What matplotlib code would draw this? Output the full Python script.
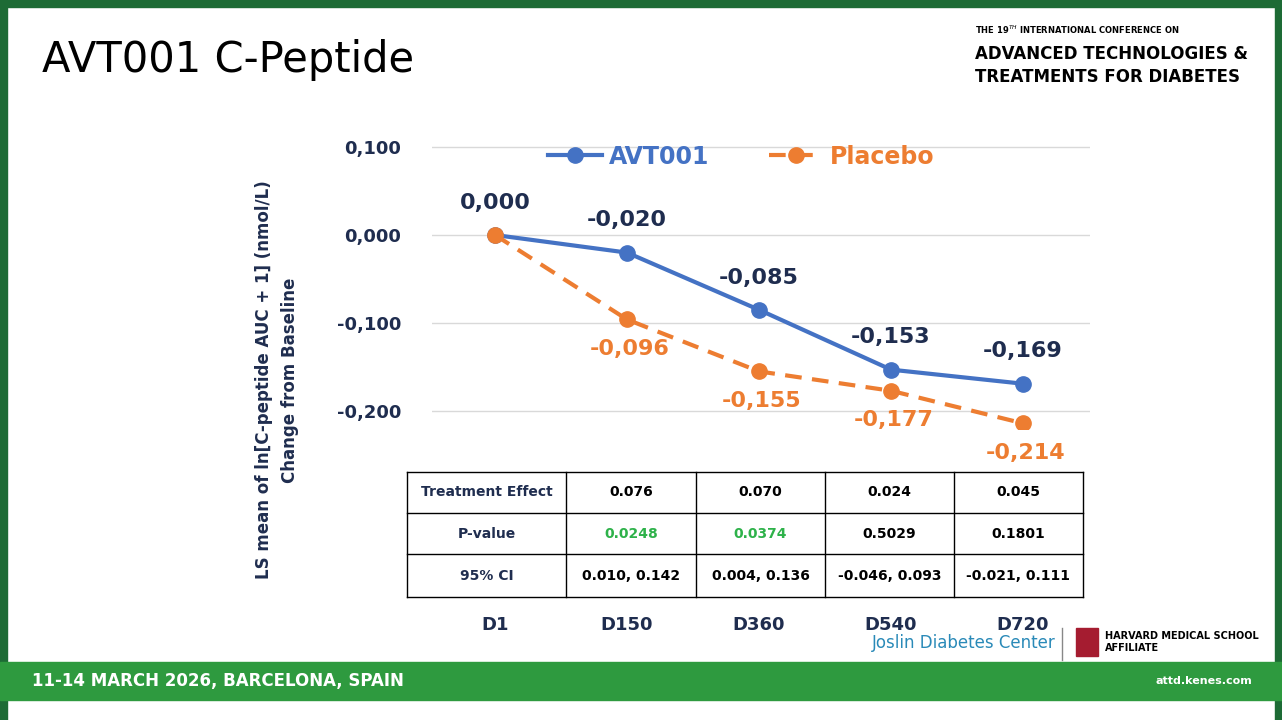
import matplotlib
matplotlib.use("Agg")
import matplotlib.pyplot as plt

days = ["D1", "D150", "D360", "D540", "D720"]
avt001 = [0.000, -0.020, -0.085, -0.153, -0.169]
placebo = [None, -0.096, -0.155, -0.177, -0.214]
placebo_vals = [0.000, -0.096, -0.155, -0.177, -0.214]
row_labels = ["Treatment Effect", "P-value", "95% CI"]
effect = ["0.076", "0.070", "0.024", "0.045"]
pvals = ["0.0248", "0.0374", "0.5029", "0.1801"]
ci = ["0.010, 0.142", "0.004, 0.136", "-0.046, 0.093", "-0.021, 0.111"]
yticks = [0.1, 0.0, -0.1, -0.2]

NAVY = "#1f2d4f"; BLUE = "#4472c4"; ORANGE = "#ed7d31"
W, H = 1282, 720
fig = plt.figure(figsize=(W/100, H/100), dpi=100)
fig.patch.set_facecolor("white")

bg = fig.add_axes([0, 0, 1, 1]); bg.set_xlim(0, W); bg.set_ylim(H, 0); bg.axis("off")
bg.add_patch(plt.Rectangle((0, 0), W, 7, color="#1d6b35"))
bg.add_patch(plt.Rectangle((0, 0), 7, H, color="#1d6b35"))
bg.add_patch(plt.Rectangle((W-7, 0), 7, H, color="#1d6b35"))
bg.add_patch(plt.Rectangle((0, 662), W, 38, color="#2e9a3f"))
bg.text(42, 60, "AVT001 C-Peptide", fontsize=30, va="center", color="black")
bg.text(975, 30, "THE 19$^{TH}$ INTERNATIONAL CONFERENCE ON", fontsize=6, fontweight="bold", va="center")
bg.text(975, 54, "ADVANCED TECHNOLOGIES &", fontsize=12, fontweight="bold", va="center")
bg.text(975, 77, "TREATMENTS FOR DIABETES", fontsize=12, fontweight="bold", va="center")
bg.text(32, 681, "11-14 MARCH 2026, BARCELONA, SPAIN", fontsize=12, fontweight="bold", color="white", va="center")
bg.text(1252, 681, "attd.kenes.com", fontsize=8, fontweight="bold", color="white", va="center", ha="right")
bg.text(872, 643, "Joslin Diabetes Center", fontsize=12, color="#2a8ab8", va="center")
bg.plot([1062, 1062], [628, 660], color="#888888", lw=1)
bg.text(1105, 636, "HARVARD MEDICAL SCHOOL", fontsize=7, fontweight="bold", va="center")
bg.text(1105, 648, "AFFILIATE", fontsize=7, fontweight="bold", va="center")
bg.add_patch(plt.Rectangle((1076, 628), 22, 28, color="#a51c30"))
bg.text(264, 380, "LS mean of ln[C-peptide AUC + 1] (nmol/L)", rotation=90, fontsize=12,
        fontweight="bold", color=NAVY, ha="center", va="center")
bg.text(290, 380, "Change from Baseline", rotation=90, fontsize=12,
        fontweight="bold", color=NAVY, ha="center", va="center")

cols = [407, 566, 696, 825, 954, 1083]
rows = [472, 513, 554, 597]
for xx in cols:
    bg.plot([xx, xx], [rows[0], rows[-1]], color="black", lw=1)
for yy in rows:
    bg.plot([cols[0], cols[-1]], [yy, yy], color="black", lw=1)
data = [effect, pvals, ci]
for r in range(3):
    yc = (rows[r] + rows[r+1]) / 2
    bg.text((cols[0]+cols[1])/2, yc, row_labels[r], ha="center", va="center", fontsize=10, fontweight="bold", color=NAVY)
    for c in range(4):
        col = "#2eb24a" if (r == 1 and c < 2) else "black"
        bg.text((cols[c+1]+cols[c+2])/2, yc, data[r][c], ha="center", va="center",
                fontsize=10, fontweight="bold", color=col)

top, bot = 129.4, 428.6
ax = fig.add_axes([432/W, 1-bot/H, (1090-432)/W, (bot-top)/H])
ax.patch.set_alpha(0)
x = list(range(len(days)))
ax.plot(x, avt001, color=BLUE, lw=3, marker="o", ms=11, label="AVT001", zorder=3)
ax.plot(x, placebo_vals, color=ORANGE, lw=3, ls=(0, (4, 2.5)), marker="o", ms=11, label="Placebo", zorder=4)
ax.set_xlim(-63/132, (1090-495)/132)
ax.set_ylim(-0.22, 0.12)
ax.set_yticks(yticks)
ax.set_yticklabels([f"{v:.3f}".replace(".", ",") for v in yticks], fontsize=13, fontweight="bold", color=NAVY)
ax.grid(axis="y", color="#d9d9d9", lw=1)
ax.set_axisbelow(True)
for s in ax.spines.values():
    s.set_visible(False)
ax.tick_params(axis="y", length=0, pad=22)
ax.set_xticks(x)
ax.set_xticklabels(days, fontsize=13, fontweight="bold", color=NAVY)
ax.tick_params(axis="x", length=0, pad=135)

fmt = lambda v: f"{v:.3f}".replace(".", ",")
for i, v in enumerate(avt001):
    ax.annotate(fmt(v), (i, v), xytext=(0, 16), textcoords="offset points", ha="center", va="bottom",
                fontsize=16, fontweight="bold", color=NAVY)
for i, v in enumerate(placebo):
    if v is None:
        continue
    ax.annotate(fmt(v), (i, v), xytext=(2, -14), textcoords="offset points", ha="center", va="top",
                fontsize=16, fontweight="bold", color=ORANGE)

ax.legend(loc="upper center", bbox_to_anchor=(0.47, 1.02), ncol=2, frameon=False,
          prop={"size": 17, "weight": "bold"}, labelcolor="linecolor",
          handlelength=2.3, columnspacing=2.5, handletextpad=0.3)
fig.savefig("out.png", dpi=100)
